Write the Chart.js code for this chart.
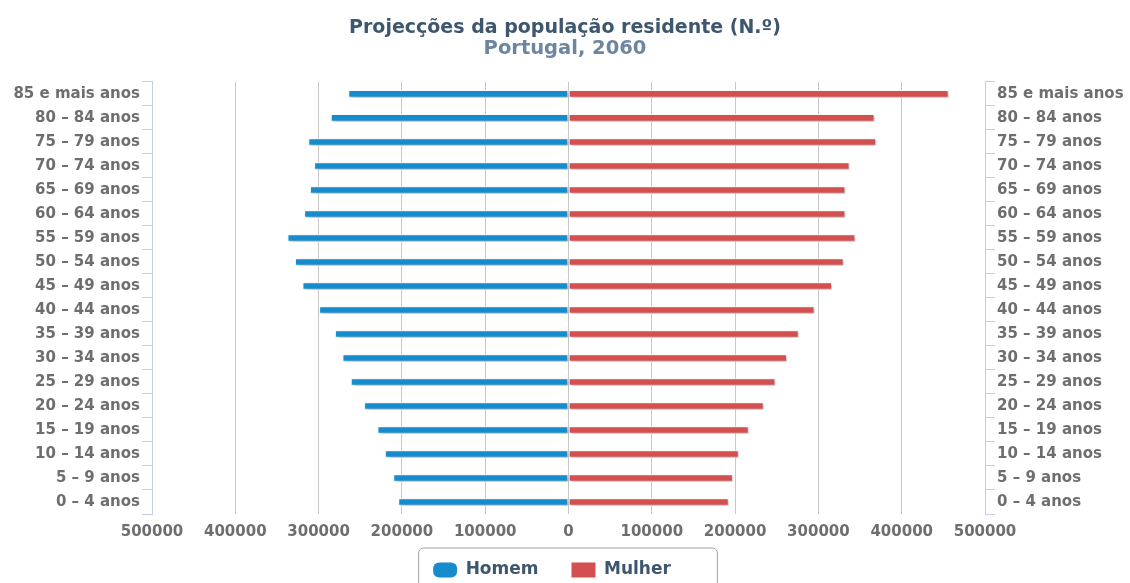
<!DOCTYPE html>
<html>
<head>
<meta charset="utf-8">
<script src="https://cdn.jsdelivr.net/npm/chart.js@4"></script>
<style>
  html, body { margin: 0; padding: 0; background: #fff; }
  #wrap { width: 1130px; height: 583px; }
</style>
</head>
<body>
<div id="wrap"><canvas id="pyramid"></canvas></div>
<script>
// age groups, top to bottom as in the picture
var ageGroups = ['85 e mais anos', '80 – 84 anos', '75 – 79 anos', '70 – 74 anos', '65 – 69 anos',
    '60 – 64 anos', '55 – 59 anos', '50 – 54 anos', '45 – 49 anos', '40 – 44 anos', '35 – 39 anos',
    '30 – 34 anos', '25 – 29 anos', '20 – 24 anos', '15 – 19 anos', '10 – 14 anos', '5 – 9 anos', '0 – 4 anos'];

var homem = [264000, 285000, 312000, 305000, 310000, 317000, 337000, 328000, 319000, 299000, 280000,
    271000, 261000, 245000, 229000, 220000, 210000, 204000];

var mulher = [456000, 367000, 369000, 337000, 332000, 332000, 344000, 330000, 316000, 295000, 276000,
    262000, 248000, 234000, 216000, 204000, 197000, 192000];

var xTicks = [-500000, -400000, -300000, -200000, -100000, 0, 100000, 200000, 300000, 400000, 500000];

var fontFamily = '"DejaVu Sans", Verdana, sans-serif';
var axisColor = '#c0d0e0';
var labelColor = '#6e6e6e';

// soft shadow under the bars
var barShadow = {
    id: 'barShadow',
    beforeDatasetsDraw: function(chart) {
        var ctx = chart.ctx;
        ctx.save();
        ctx.shadowColor = 'rgba(0,0,0,0.3)';
        ctx.shadowBlur = 4;
        ctx.shadowOffsetX = 2;
        ctx.shadowOffsetY = 2;
    },
    afterDatasetsDraw: function(chart) {
        chart.ctx.restore();
    }
};

// move the legend a bit left and up, like the original
var legendShift = {
    id: 'legendShift',
    afterLayout: function(chart) {
        chart.legend.left -= 13;
        chart.legend.right -= 13;
        chart.legend.top -= 15.5;
    }
};

// rounded frame around the legend
var legendFrame = {
    id: 'legendFrame',
    afterDraw: function(chart) {
        var boxes = chart.legend.legendHitBoxes;
        if (!boxes || !boxes.length) return;
        var first = boxes[0], last = boxes[boxes.length - 1];
        var left = first.left - 15;
        var right = last.left + last.width + 46;
        var top = first.top - 14;
        var ctx = chart.ctx;
        ctx.save();
        ctx.strokeStyle = '#a0a0a0';
        ctx.lineWidth = 1;
        ctx.beginPath();
        ctx.roundRect(left + 0.5, top + 0.5, right - left, 80, 5);
        ctx.stroke();
        ctx.restore();
    }
};

var pyramid = new Chart(document.getElementById('pyramid'), {
    type: 'bar',
    data: {
        labels: ageGroups,
        datasets: [{
            label: 'Homem',
            data: homem.map(function(v) { return -v; }),
            backgroundColor: '#168ccc',
            borderColor: '#ffffff',
            borderWidth: 1,
            borderSkipped: false,
            barThickness: 7
        }, {
            label: 'Mulher',
            data: mulher,
            backgroundColor: '#d45050',
            borderColor: '#ffffff',
            borderWidth: 1,
            borderSkipped: false,
            barThickness: 7
        }]
    },
    plugins: [barShadow, legendShift, legendFrame],
    options: {
        indexAxis: 'y',
        responsive: true,
        maintainAspectRatio: false,
        animation: false,
        layout: { padding: 0 },
        scales: {
            x: {
                stacked: true,
                min: -500000,
                max: 500000,
                afterBuildTicks: function(scale) {
                    scale.ticks = xTicks.map(function(v) { return { value: v }; });
                },
                afterFit: function(scale) { scale.height = 30; },
                grid: { color: '#c8c8c8', drawTicks: false },
                border: { display: false },
                ticks: {
                    padding: 9,
                    color: labelColor,
                    font: { family: fontFamily, size: 15, weight: 'bold' },
                    callback: function(v) { return Math.abs(v); }
                }
            },
            y: {
                stacked: true,
                position: 'left',
                afterFit: function(scale) { scale.width = 152; },
                grid: { offset: true, drawOnChartArea: false, color: axisColor, tickLength: 10 },
                border: { color: axisColor },
                ticks: {
                    padding: 2,
                    color: labelColor,
                    font: { family: fontFamily, size: 15, weight: 'bold' }
                }
            },
            y2: {
                type: 'category',
                labels: ageGroups,
                offset: true,
                position: 'right',
                afterFit: function(scale) { scale.width = 145; },
                grid: { offset: true, drawOnChartArea: false, color: axisColor, tickLength: 10 },
                border: { color: axisColor },
                ticks: {
                    padding: 2,
                    color: labelColor,
                    font: { family: fontFamily, size: 15, weight: 'bold' }
                }
            }
        },
        plugins: {
            title: {
                display: true,
                text: 'Projecções da população residente (N.º)',
                color: '#3e576f',
                font: { family: fontFamily, size: 19, weight: 'bold', lineHeight: 1.0 },
                padding: { top: 19, bottom: 0 }
            },
            subtitle: {
                display: true,
                text: 'Portugal, 2060',
                color: '#6d869f',
                font: { family: fontFamily, size: 19.5, weight: 'bold', lineHeight: 1.1 },
                padding: { top: 0, bottom: 22.5 }
            },
            legend: {
                position: 'bottom',
                maxHeight: 39,
                labels: {
                    padding: 33,
                    boxWidth: 24,
                    boxHeight: 15,
                    color: '#3e576f',
                    font: { family: fontFamily, size: 17, weight: 'bold' },
                    useBorderRadius: true,
                    borderRadius: 0,
                    generateLabels: function(chart) {
                        var items = Chart.defaults.plugins.legend.labels.generateLabels(chart);
                        items.forEach(function(it, i) {
                            it.lineWidth = 0;
                            it.borderRadius = i === 0 ? 6 : 0;
                        });
                        return items;
                    }
                }
            },
            tooltip: { enabled: false }
        }
    }
});
</script>
</body>
</html>
